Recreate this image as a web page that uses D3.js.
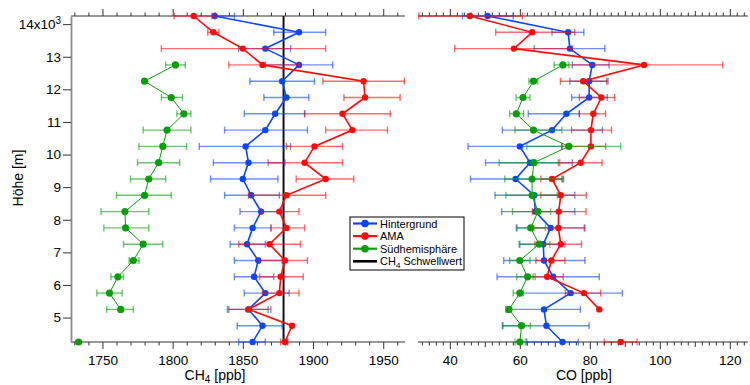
<!DOCTYPE html>
<html>
<head>
<meta charset="utf-8">
<script src="https://cdn.jsdelivr.net/npm/d3@7"></script>
<style>
  body { margin: 0; background: #fff; }
  svg { font-family: "Liberation Sans", Arial, sans-serif; }
</style>
</head>
<body>
<svg id="chart" width="750" height="385"></svg>
<script>
// altitude levels [m]
const altitude = [14250, 13750, 13250, 12750, 12250, 11750, 11250, 10750, 10250, 9750, 9250,
                  8750, 8250, 7750, 7250, 6750, 6250, 5750, 5250, 4750, 4250];

// CH4 [ppb]
const ch4Hintergrund = [1830, 1890, 1866, 1890, 1878, 1881, 1873, 1866, 1852, 1854, 1850,
                        1856, 1863, 1857, 1853, 1861, 1858, 1866, 1854, 1864, 1857];
const ch4HintergrundErr = [[1828, 1844], [1872, 1909], [1847, 1884], [1866, 1914], [1855, 1901], [1865, 1897],
                           [1851, 1894], [1837, 1896], [1819, 1884], [1829, 1880], [1827, 1875], [1837, 1876],
                           [1848, 1878], [1844, 1870], [1841, 1866], [1844, 1878], [1844, 1872], [1851, 1883],
                           [1840, 1868], [1846, 1878], [1847, 1866]];
const ch4AMA = [1815, 1829, 1850, 1864, 1936, 1937, 1921, 1928, 1901, 1894, 1909,
                1881, 1876, 1881, 1869, 1880, 1877, 1876, 1854, 1885, 1880];
const ch4AMAErr = [[1801, 1830], [1825, 1833], [1792, 1909], [1840, 1890], [1907, 1965], [1922, 1962],
                   [1894, 1955], [1909, 1953], [1881, 1921], [1868, 1921], [1888, 1929], [1854, 1909],
                   [1863, 1890], [1870, 1894], [1847, 1891], [1862, 1896], [1862, 1893], [1864, 1890],
                   [1839, 1870], null, [1877, 1882]];
const ch4Sued = [null, null, null, 1802, 1780, 1799, 1808, 1796, 1793, 1790, 1783,
                 1780, 1766, 1766.5, 1779, 1772, 1761, 1755, 1763, null, 1733];
const ch4SuedErr = [null, null, null, [1795, 1809], null, [1792, 1807], [1803, 1813], [1779, 1813],
                    [1776, 1810], [1775, 1805], [1770, 1795], [1760, 1799], [1749, 1783], [1751, 1783],
                    [1765, 1793], [1769, 1776], [1756, 1765], [1746, 1764], [1753, 1772], null, null];
const ch4Schwellwert = 1879;

// CO [ppb]
const coHintergrund = [50.8, 73.8, 74.3, 80.7, 79.8, 79.8, 73.3, 69.2, 60, 62.9, 58.8,
                       64.1, 64.4, 68.8, 66.7, 66.9, 69.5, 74.5, 66.9, 67.6, 72.2];
const coHintergrundErr = [[43.6, 58.1], [69.2, 78.3], [64.1, 84.3], [75, 85.5], [74.3, 85.2], [74.8, 85],
                          [62.4, 77], [55, 83.6], [45.2, 72], [50.2, 75], [45.9, 72], [52.9, 75.7],
                          [54.8, 75.7], [59, 78.4], [60, 72.9], [55.4, 78.6], [53.5, 82.7], [60, 89.3],
                          [56, 77.3], [55, 79.8], [62, 76.7]];
const coAMA = [45.7, 63.5, 58.3, 95.5, 78.1, 83.3, 81, 80.3, 80.3, 77.4, 69.2,
               71.7, 71.1, 71, 71.7, 69, 67.8, 78.3, 82.7, null, 88.8];
const coAMAErr = [[31.1, 60.7], [53.1, 75.7], [41.4, 75], [72, 118], [71.6, 84.8], [77, 87.1],
                  [77, 84.5], [74.8, 86.2], [72, 84.5], [71, 83.5], [66, 72.5], [66, 79],
                  [63.6, 78.9], [64, 78.6], [64.3, 77.6], [64.6, 72.9], [63.8, 72.4], [73, 83.1],
                  null, null, [84.1, 93.5]];
const coSued = [null, null, null, 72.3, 63.9, 60.9, 59, 63.9, 74, 64, 63.5,
                63.5, 65.2, 63.1, 65.5, 60, 62.2, 60, 56.9, 60.5, 60];
const coSuedErr = [null, null, null, [69.8, 74], [62.6, 65.1], [58.9, 62.9], [57.1, 61.1], [58.6, 72],
                   [62, 88.8], [54.1, 71.4], [55.7, 72.3], [56, 70.7], [57.9, 68.8], [59.2, 67.3],
                   [59.8, 68.6], [57.1, 62.9], [59.1, 64.4], [58.1, 61], null, [55.2, 63], [58.6, 61.6]];

// tick labels
const altTicks = [5000, 6000, 7000, 8000, 9000, 10000, 11000, 12000, 13000, 14000];
const ch4Ticks = [1750, 1800, 1850, 1900, 1950];
const coTicks = [40, 60, 80, 100, 120];

const legendNames = ["Hintergrund", "AMA", "Südhemisphäre", "CH4 Schwellwert"];

const colors = { blue: "#0a46ff", red: "#ff0a0a", green: "#0a9e0a" };

const svg = d3.select("#chart");
const yTop = 16, yBottom = 342;

const y = d3.scaleLinear().domain([4250, 14250]).range([yBottom, yTop]);
const xCH4 = d3.scaleLinear().domain([1727.6, 1965.5]).range([71, 405]);
const xCO = d3.scaleLinear().domain([30.9, 125.2]).range([418, 748]);

function stepValues(x, step, exclude) {
  const [d0, d1] = x.domain();
  const out = [];
  for (let v = Math.ceil(d0 / step) * step; v <= d1; v += step) {
    const r = Math.round(v * 1000) / 1000;
    if (!exclude.some(e => Math.abs(e - r) < 1e-6)) out.push(r);
  }
  return out;
}

function drawXAxes(x, majors, minorStep, midStep, title, titleSub, titleX) {
  const mids = midStep ? stepValues(x, midStep, majors) : [];
  const minors = stepValues(x, minorStep, majors.concat(mids));
  [[yTop, d3.axisTop], [yBottom, d3.axisBottom]].forEach(([yy, axisFn]) => {
    const g = svg.append("g").attr("transform", `translate(0,${yy})`).attr("color", "#333");
    g.append("g").call(axisFn(x).tickValues(minors).tickSize(3.5).tickSizeOuter(0).tickFormat(""))
      .call(s => s.select(".domain").remove());
    if (mids.length)
      g.append("g").call(axisFn(x).tickValues(mids).tickSize(5).tickSizeOuter(0).tickFormat(""))
        .call(s => s.select(".domain").remove());
    const major = g.append("g")
      .call(axisFn(x).tickValues(majors).tickSize(7).tickSizeOuter(0).tickPadding(6)
        .tickFormat(yy === yBottom ? d3.format("d") : ""));
    major.select(".domain").remove();
    major.selectAll("text").attr("font-size", 13.5).attr("fill", "#000")
      .attr("font-family", "Liberation Sans, Arial, sans-serif");
    g.append("line")
      .attr("x1", x.range()[0]).attr("x2", x.range()[1])
      .attr("stroke", "#333").attr("stroke-width", 1.2);
  });

  const t = svg.append("text")
    .attr("x", titleX).attr("y", 380)
    .attr("text-anchor", "middle").attr("font-size", 14);
  t.append("tspan").text(title);
  if (titleSub) {
    t.append("tspan").attr("font-size", 10).attr("dy", 2.5).text(titleSub);
    t.append("tspan").attr("dy", -2.5).text(" [ppb]");
  } else {
    t.append("tspan").text(" [ppb]");
  }
}

drawXAxes(xCH4, ch4Ticks, 10, null, "CH", "4", 215);
drawXAxes(xCO, coTicks, 2, 10, "CO", null, 584);

// y axis (left panel only)
const yAxis = svg.append("g")
  .attr("transform", "translate(71,0)")
  .attr("color", "#333")
  .call(d3.axisLeft(y).tickValues(altTicks).tickSize(8).tickSizeOuter(0).tickPadding(2)
    .tickFormat(d => d / 1000));
yAxis.select(".domain").attr("stroke", "#8c8c8c").attr("stroke-width", 1.8);
yAxis.selectAll("text").attr("font-size", 13.5).attr("fill", "#000")
  .attr("font-family", "Liberation Sans, Arial, sans-serif");
yAxis.selectAll(".tick").filter(d => d === 14000).select("text")
  .text(null)
  .call(t => {
    t.append("tspan").text("14x10");
    t.append("tspan").attr("font-size", 10).attr("dy", -5).text("3");
  });

svg.append("text")
  .attr("transform", "translate(23,178) rotate(-90)")
  .attr("text-anchor", "middle").attr("font-size", 14)
  .text("Höhe [m]");

// CH4 threshold
svg.append("line")
  .attr("x1", xCH4(ch4Schwellwert)).attr("x2", xCH4(ch4Schwellwert))
  .attr("y1", y(14250)).attr("y2", y(4250))
  .attr("stroke", "#111").attr("stroke-width", 2);

function drawSeries(x, values, errs, color, lineWidth, r) {
  const pts = altitude.map((a, i) => ({ a, v: values[i], e: errs[i] }));
  const g = svg.append("g");
  const eb = g.append("g").attr("stroke", color).attr("stroke-opacity", 0.6).attr("stroke-width", 1.4);
  pts.filter(d => d.v != null && d.e).forEach(d => {
    const yy = y(d.a);
    eb.append("line").attr("x1", x(d.e[0])).attr("x2", x(d.e[1])).attr("y1", yy).attr("y2", yy);
    eb.append("line").attr("x1", x(d.e[0])).attr("x2", x(d.e[0])).attr("y1", yy - 3.5).attr("y2", yy + 3.5);
    eb.append("line").attr("x1", x(d.e[1])).attr("x2", x(d.e[1])).attr("y1", yy - 3.5).attr("y2", yy + 3.5);
  });
  const line = d3.line().defined(d => d.v != null).x(d => x(d.v)).y(d => y(d.a));
  g.append("path").datum(pts).attr("d", line)
    .attr("fill", "none").attr("stroke", color).attr("stroke-width", lineWidth);
  g.selectAll("circle").data(pts.filter(d => d.v != null)).join("circle")
    .attr("cx", d => x(d.v)).attr("cy", d => y(d.a)).attr("r", r)
    .attr("fill", color);
}

drawSeries(xCH4, ch4Hintergrund, ch4HintergrundErr, colors.blue, 1.6, 3.2);
drawSeries(xCH4, ch4AMA, ch4AMAErr, colors.red, 1.6, 3.2);
drawSeries(xCH4, ch4Sued, ch4SuedErr, colors.green, 1, 3.6);

drawSeries(xCO, coHintergrund, coHintergrundErr, colors.blue, 1.6, 3.2);
drawSeries(xCO, coAMA, coAMAErr, colors.red, 1.6, 3.2);
drawSeries(xCO, coSued, coSuedErr, colors.green, 1, 3.6);

// legend
const legend = svg.append("g").attr("transform", "translate(350,217)");
legend.append("rect").attr("width", 114).attr("height", 53)
  .attr("fill", "#fff").attr("stroke", "#000").attr("stroke-width", 1);
const legendColors = [colors.blue, colors.red, colors.green, "#000"];
legendNames.forEach((name, i) => {
  const ly = 6.5 + i * 12.6;
  legend.append("line").attr("x1", 3).attr("x2", 27).attr("y1", ly).attr("y2", ly)
    .attr("stroke", legendColors[i]).attr("stroke-width", i === 3 ? 2.6 : 2.2);
  if (i < 3) legend.append("circle").attr("cx", 15).attr("cy", ly).attr("r", 3.8).attr("fill", legendColors[i]);
  const t = legend.append("text").attr("x", 30).attr("y", ly + 4).attr("font-size", 11);
  if (i === 3) {
    t.append("tspan").text("CH");
    t.append("tspan").attr("font-size", 8).attr("dy", 2.5).text("4");
    t.append("tspan").attr("dy", -2.5).text(" Schwellwert");
  } else {
    t.text(name);
  }
});
</script>
</body>
</html>
